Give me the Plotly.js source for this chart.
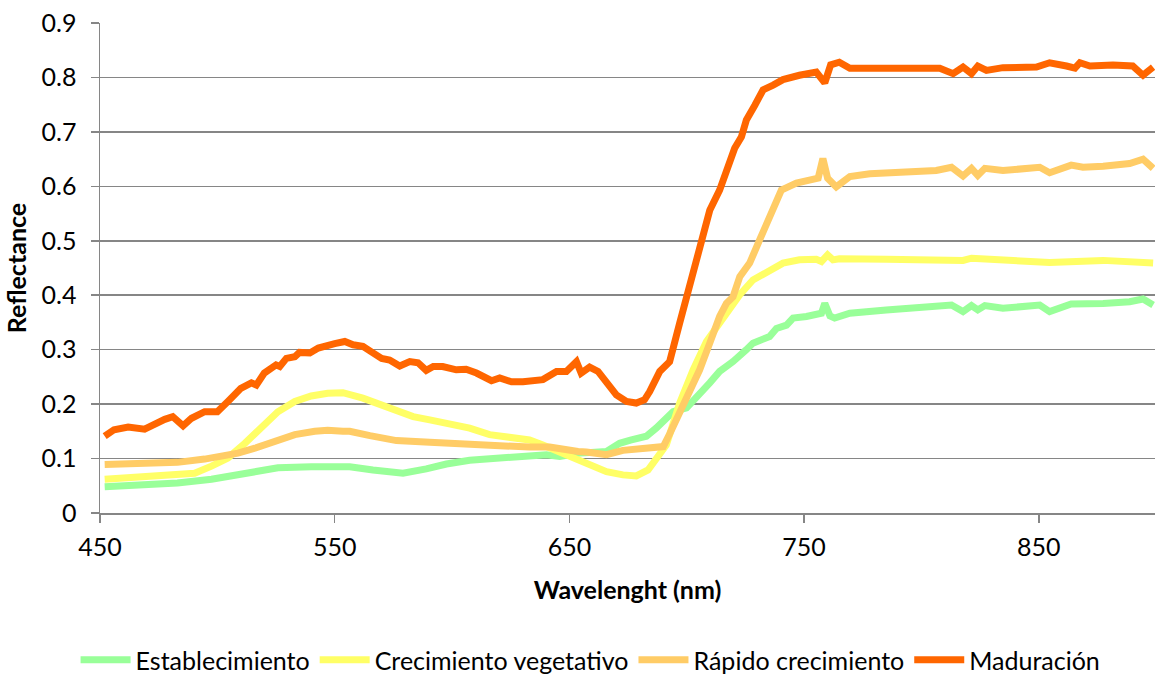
<!DOCTYPE html>
<html>
<head>
<meta charset="utf-8">
<script src="https://cdn.plot.ly/plotly-3.0.1.min.js"></script>
<style>html,body{margin:0;padding:0;background:#fff;}#chart{width:1155px;height:675px;}</style>
</head>
<body>
<div id="chart"></div>
<script>
// Establecimiento (green)
const estX = [452,469,483,497.5,507.4,516,525.8,540,553.5,556.4,566.3,579.1,589,597.6,607.5,618.9,630.2,640.2,645.9,654.4,665.8,671.4,676,682.8,687,694.2,699.9,704.8,709.8,714,719.7,725.4,728.2,735.3,738.2,742.5,745.3,751,755.2,757.4,758.8,761,763,769.5,785,799,812.8,817.7,821.3,824,827,834.7,850.4,854.6,863.8,877.4,888.7,894.4,898.7];
const estY = [0.048,0.052,0.055,0.062,0.070,0.078,0.083,0.085,0.085,0.085,0.079,0.073,0.081,0.090,0.097,0.101,0.104,0.107,0.104,0.110,0.113,0.128,0.134,0.141,0.156,0.186,0.193,0.214,0.239,0.260,0.278,0.300,0.312,0.324,0.339,0.345,0.358,0.361,0.364,0.367,0.385,0.362,0.358,0.367,0.373,0.376,0.382,0.370,0.381,0.373,0.381,0.376,0.382,0.370,0.384,0.385,0.388,0.393,0.382];

// Crecimiento vegetativo (yellow)
const vegX = [452,469,483,490.3,497.5,504.5,511.7,518.8,525.8,533,540,547,553.5,562,569.2,576.3,583.4,590.5,600.4,607.5,616,624.6,633,638.7,647.3,653.7,658.6,665.8,672.8,678.5,683.5,687,691.3,697,702.7,708.4,714,718.3,722.6,728.2,734,741,748,755.2,757.4,760,762.3,765,785,817.7,821.3,854.6,877.4,895.8,898.7];
const vegY = [0.062,0.067,0.070,0.073,0.086,0.101,0.128,0.159,0.186,0.205,0.215,0.220,0.221,0.211,0.199,0.186,0.177,0.171,0.164,0.156,0.144,0.138,0.134,0.125,0.110,0.099,0.089,0.076,0.070,0.068,0.079,0.098,0.125,0.202,0.263,0.315,0.349,0.373,0.401,0.428,0.443,0.459,0.465,0.466,0.462,0.474,0.465,0.467,0.466,0.464,0.468,0.460,0.464,0.457,0.459];

// Rápido crecimiento (light orange)
const rapX = [452,469,483,494.6,503,508.8,516,524.4,533,541.5,547,553.5,556.4,565,576.3,590.5,604.6,618.9,633,641.6,647.3,653.7,657.2,665.8,672.8,681.4,685.6,690,692.7,697,701.3,705.5,709.8,714,716.9,719.7,722.6,726.8,731,735.3,740.3,746.7,753.8,756,758,760,763.7,769.5,778,792.1,799,806.3,812.8,817.7,821.3,824,827,834.7,850.4,854.6,863.8,868.8,877.4,888.7,894.4,898.7];
const rapY = [0.089,0.092,0.093,0.099,0.105,0.110,0.119,0.133,0.144,0.150,0.152,0.150,0.150,0.142,0.133,0.130,0.127,0.122,0.121,0.121,0.116,0.113,0.112,0.107,0.115,0.119,0.123,0.122,0.145,0.186,0.220,0.263,0.312,0.361,0.385,0.397,0.434,0.459,0.501,0.547,0.593,0.606,0.615,0.615,0.651,0.615,0.599,0.618,0.623,0.625,0.625,0.629,0.635,0.619,0.633,0.620,0.633,0.629,0.635,0.625,0.639,0.635,0.637,0.642,0.650,0.633];

// Maduración (orange)
const madX = [452,456,462,469,477.6,481,485.4,489,494.6,500,504.5,510,514.5,516.6,520,525,526.6,529.4,533,535,539.4,543,550,554.3,557.8,562,566.3,570,573.4,577.7,582,585.5,589,592,596,601.8,606,610.4,616.8,620.3,625.3,630.2,638.7,644.5,648.7,653,655,658.6,662.2,665.8,670,674.3,678.5,682,684.2,688.5,692.7,697,701.3,705.5,709.8,714,717.6,720.4,723.3,725.4,729,732.5,736.8,741,748,755.2,758.8,761.3,765,769.5,785,799,807.8,813.5,817.7,821.3,824,827.7,834.7,849,854.6,861.8,865.4,867.5,871.8,881.6,890,894.4,898.7];
const madY = [0.141,0.153,0.158,0.154,0.172,0.177,0.160,0.174,0.186,0.186,0.205,0.229,0.239,0.235,0.257,0.272,0.269,0.284,0.287,0.295,0.294,0.303,0.311,0.315,0.309,0.306,0.294,0.284,0.281,0.270,0.278,0.276,0.262,0.269,0.269,0.263,0.264,0.257,0.243,0.248,0.241,0.241,0.245,0.260,0.260,0.278,0.257,0.268,0.260,0.239,0.217,0.205,0.202,0.208,0.223,0.260,0.278,0.349,0.422,0.489,0.556,0.593,0.633,0.670,0.691,0.722,0.749,0.777,0.786,0.796,0.804,0.810,0.790,0.823,0.828,0.817,0.817,0.817,0.817,0.807,0.819,0.807,0.821,0.813,0.818,0.819,0.827,0.821,0.817,0.827,0.821,0.823,0.821,0.804,0.819];

const seriesNames = ['Establecimiento','Crecimiento vegetativo','Rápido crecimiento','Maduración'];
const seriesColors = ['#99FF99','#FFFF66','#FFCC66','#FF6600'];
const xTickVals = [450,550,650,750,850];
const yTickVals = [0,0.1,0.2,0.3,0.4,0.5,0.6,0.7,0.8,0.9];

const xs = [estX, vegX, rapX, madX];
const ys = [estY, vegY, rapY, madY];
const traces = xs.map((x, i) => ({
  type: 'scatter', mode: 'lines', x: x, y: ys[i], name: seriesNames[i],
  line: {color: seriesColors[i], width: 7}
}));

const FONT = 'Lato, "Open Sans", sans-serif';
const layout = {
  width: 1155, height: 675,
  margin: {l: 100, r: 0, t: 23, b: 162, autoexpand: false},
  paper_bgcolor: '#ffffff', plot_bgcolor: '#ffffff',
  font: {family: FONT, size: 24, color: '#000000'},
  showlegend: true,
  legend: {orientation: 'h', xref: 'paper', x: 0.465, xanchor: 'center', yref: 'paper', y: -0.30, yanchor: 'middle',
           font: {family: FONT, size: 25, color: '#000'}, itemwidth: 50, itemgap: 55, traceorder: 'normal'},
  xaxis: {
    range: [450, 899.5], tickvals: xTickVals, ticktext: xTickVals.map(String),
    showgrid: false, zeroline: false, showline: true, linecolor: '#868686', linewidth: 1.5,
    ticks: 'outside', ticklen: 8, tickcolor: '#868686', tickwidth: 1.5, ticklabelstandoff: 3,
    tickfont: {family: FONT, size: 25, color: '#000'},
    title: {text: '<b>Wavelenght (nm)</b>', font: {family: FONT, size: 25, color: '#000'}, standoff: 22}
  },
  yaxis: {
    range: [0, 0.9], tickvals: yTickVals, ticktext: yTickVals.map(v => String(v)),
    showgrid: true, gridcolor: '#868686', gridwidth: 1.5, zeroline: false,
    showline: true, linecolor: '#868686', linewidth: 1.5,
    ticks: 'outside', ticklen: 8, tickcolor: '#868686', tickwidth: 1.5, ticklabelstandoff: 9,
    tickfont: {family: FONT, size: 25, color: '#000'},
    title: {text: '<b>Reflectance</b>', font: {family: FONT, size: 25, color: '#000'}, standoff: 8}
  }
};

Plotly.newPlot('chart', traces, layout, {displayModeBar: false, staticPlot: true});
</script>
</body>
</html>
